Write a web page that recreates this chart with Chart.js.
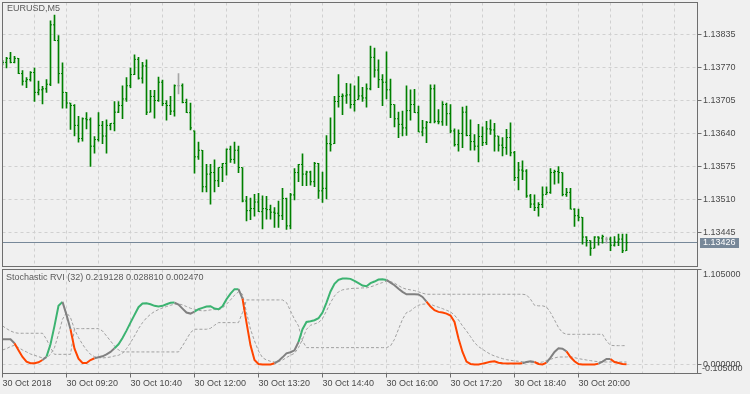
<!DOCTYPE html>
<html><head><meta charset="utf-8">
<script src="https://cdn.jsdelivr.net/npm/chart.js@4/dist/chart.umd.min.js"></script>
<style>
html,body{margin:0;padding:0;background:#f0f0f0;}
#wrap{position:relative;width:750px;height:394px;overflow:hidden;background:#f0f0f0;}
#c1{position:absolute;left:0;top:0;}
#c2{position:absolute;left:0;top:268px;}
</style></head><body>
<div id="wrap"><canvas id="c1" width="750" height="268"></canvas><canvas id="c2" width="750" height="126"></canvas></div>
<script>
const symbolTitle = 'EURUSD,M5';
const indicatorTitle = 'Stochastic RVI (32) 0.219128 0.028810 0.002470';
const timeLabels = ['30 Oct 2018','30 Oct 09:20','30 Oct 10:40','30 Oct 12:00','30 Oct 13:20','30 Oct 14:40','30 Oct 16:00','30 Oct 17:20','30 Oct 18:40','30 Oct 20:00'];
const timeLabelBars = [0,16,32,48,64,80,96,112,128,144];
const gridBars = [0,8,16,24,32,40,48,56,64,72,80,88,96,104,112,120,128,136,144,152,160,168];
const priceTicks = [1.13445,1.13510,1.13575,1.13640,1.13705,1.13770,1.13835];
const indTicks = [-0.105,0,1.105];
const indLabels = ['-0.105000','0.000000','1.105000'];

const openP = [
1.13780,1.13781,1.13789,1.13781,1.13789,1.13759,1.13744,1.13747,1.13761,1.13722,
1.13727,1.13729,1.13738,1.13855,1.13824,1.13759,1.13722,1.13701,1.13696,1.13657,
1.13631,1.13670,1.13668,1.13616,1.13629,1.13657,1.13636,1.13657,1.13661,1.13683,
1.13696,1.13709,1.13735,1.13757,1.13787,1.13750,1.13774,1.13683,1.13714,1.13706,
1.13742,1.13700,1.13696,1.13685,1.13735,1.13735,1.13702,1.13682,1.13646,1.13595,
1.13608,1.13536,1.13561,1.13564,1.13548,1.13574,1.13582,1.13610,1.13590,1.13608,
1.13574,1.13508,1.13489,1.13493,1.13506,1.13487,1.13493,1.13491,1.13486,1.13484,
1.13479,1.13513,1.13459,1.13520,1.13564,1.13580,1.13561,1.13565,1.13546,1.13582,
1.13528,1.13533,1.13621,1.13621,1.13704,1.13714,1.13715,1.13717,1.13698,1.13708,
1.13715,1.13711,1.13729,1.13791,1.13766,1.13747,1.13742,1.13727,1.13698,1.13670,
1.13659,1.13652,1.13686,1.13698,1.13682,1.13644,1.13652,1.13663,1.13729,1.13665,
1.13664,1.13698,1.13680,1.13646,1.13619,1.13641,1.13683,1.13637,1.13625,1.13616,
1.13635,1.13623,1.13650,1.13648,1.13636,1.13618,1.13613,1.13633,1.13603,1.13554,
1.13569,1.13567,1.13518,1.13502,1.13495,1.13501,1.13521,1.13525,1.13564,1.13566,
1.13564,1.13521,1.13525,1.13492,1.13479,1.13476,1.13437,1.13430,1.13415,1.13437,
1.13435,1.13433,1.13433,1.13421,1.13427,1.13433,1.13410];
const highP = [
1.13785,1.13791,1.13801,1.13793,1.13789,1.13765,1.13751,1.13763,1.13770,1.13744,
1.13734,1.13747,1.13863,1.13874,1.13834,1.13780,1.13722,1.13701,1.13698,1.13675,
1.13672,1.13682,1.13672,1.13635,1.13682,1.13665,1.13668,1.13661,1.13704,1.13704,
1.13735,1.13751,1.13770,1.13796,1.13791,1.13781,1.13786,1.13726,1.13726,1.13752,
1.13746,1.13706,1.13714,1.13737,1.13759,1.13739,1.13709,1.13701,1.13646,1.13624,
1.13608,1.13580,1.13580,1.13589,1.13574,1.13582,1.13611,1.13616,1.13624,1.13616,
1.13574,1.13517,1.13514,1.13521,1.13523,1.13518,1.13517,1.13500,1.13495,1.13508,
1.13533,1.13514,1.13523,1.13572,1.13580,1.13601,1.13567,1.13567,1.13584,1.13582,
1.13565,1.13637,1.13672,1.13714,1.13757,1.13719,1.13740,1.13739,1.13735,1.13753,
1.13732,1.13739,1.13813,1.13809,1.13786,1.13757,1.13802,1.13748,1.13698,1.13683,
1.13685,1.13735,1.13727,1.13728,1.13695,1.13667,1.13665,1.13737,1.13737,1.13688,
1.13704,1.13701,1.13698,1.13650,1.13648,1.13693,1.13695,1.13668,1.13639,1.13659,
1.13654,1.13665,1.13668,1.13661,1.13636,1.13633,1.13649,1.13662,1.13606,1.13584,
1.13587,1.13570,1.13521,1.13520,1.13505,1.13536,1.13536,1.13572,1.13569,1.13576,
1.13564,1.13533,1.13533,1.13493,1.13492,1.13476,1.13438,1.13430,1.13438,1.13438,
1.13441,1.13437,1.13437,1.13438,1.13443,1.13443,1.13443];
const lowP = [
1.13776,1.13770,1.13780,1.13780,1.13759,1.13736,1.13731,1.13744,1.13704,1.13717,
1.13699,1.13722,1.13735,1.13824,1.13740,1.13691,1.13691,1.13649,1.13636,1.13624,
1.13626,1.13650,1.13576,1.13602,1.13626,1.13621,1.13602,1.13648,1.13646,1.13682,
1.13670,1.13704,1.13731,1.13757,1.13748,1.13740,1.13678,1.13683,1.13671,1.13704,
1.13696,1.13667,1.13678,1.13675,1.13719,1.13701,1.13682,1.13648,1.13563,1.13590,
1.13526,1.13526,1.13502,1.13526,1.13536,1.13546,1.13559,1.13584,1.13582,1.13564,
1.13506,1.13469,1.13471,1.13478,1.13487,1.13453,1.13472,1.13472,1.13456,1.13456,
1.13471,1.13452,1.13453,1.13510,1.13546,1.13538,1.13538,1.13539,1.13536,1.13513,
1.13505,1.13512,1.13606,1.13621,1.13693,1.13678,1.13700,1.13691,1.13685,1.13708,
1.13704,1.13693,1.13727,1.13752,1.13731,1.13696,1.13709,1.13672,1.13654,1.13633,
1.13636,1.13637,1.13667,1.13682,1.13644,1.13636,1.13623,1.13662,1.13662,1.13660,
1.13657,1.13657,1.13642,1.13616,1.13606,1.13613,1.13636,1.13608,1.13608,1.13585,
1.13617,1.13619,1.13639,1.13606,1.13606,1.13597,1.13600,1.13597,1.13548,1.13530,
1.13550,1.13515,1.13495,1.13489,1.13478,1.13495,1.13521,1.13523,1.13541,1.13543,
1.13518,1.13517,1.13492,1.13458,1.13469,1.13423,1.13419,1.13401,1.13415,1.13421,
1.13425,1.13425,1.13410,1.13419,1.13420,1.13406,1.13410];
const closeP = [
1.13781,1.13789,1.13781,1.13789,1.13759,1.13744,1.13747,1.13761,1.13722,1.13727,
1.13729,1.13738,1.13855,1.13824,1.13759,1.13722,1.13701,1.13696,1.13657,1.13631,
1.13670,1.13668,1.13616,1.13629,1.13657,1.13636,1.13657,1.13661,1.13683,1.13696,
1.13709,1.13735,1.13757,1.13787,1.13750,1.13774,1.13683,1.13714,1.13706,1.13742,
1.13700,1.13696,1.13685,1.13735,1.13735,1.13702,1.13682,1.13652,1.13595,1.13608,
1.13536,1.13561,1.13564,1.13548,1.13574,1.13582,1.13610,1.13590,1.13608,1.13574,
1.13508,1.13489,1.13493,1.13506,1.13487,1.13493,1.13491,1.13486,1.13484,1.13479,
1.13513,1.13459,1.13520,1.13564,1.13580,1.13561,1.13565,1.13546,1.13582,1.13528,
1.13533,1.13621,1.13619,1.13704,1.13714,1.13715,1.13717,1.13698,1.13706,1.13715,
1.13711,1.13729,1.13791,1.13766,1.13747,1.13742,1.13727,1.13698,1.13670,1.13659,
1.13652,1.13686,1.13698,1.13682,1.13644,1.13652,1.13663,1.13729,1.13665,1.13664,
1.13698,1.13680,1.13646,1.13619,1.13641,1.13683,1.13637,1.13625,1.13616,1.13635,
1.13623,1.13650,1.13648,1.13636,1.13618,1.13613,1.13633,1.13603,1.13554,1.13569,
1.13567,1.13518,1.13502,1.13495,1.13501,1.13520,1.13525,1.13564,1.13566,1.13564,
1.13521,1.13525,1.13492,1.13479,1.13476,1.13437,1.13430,1.13415,1.13437,1.13435,
1.13438,1.13433,1.13421,1.13427,1.13433,1.13410,1.13426];

const rviMain = [
0.293,0.293,0.293,0.247,0.165,0.087,0.033,0.014,0.014,0.025,
0.052,0.091,0.235,0.449,0.682,0.728,0.577,0.410,0.184,0.068,
0.017,0.017,0.052,0.072,0.083,0.095,0.118,0.146,0.188,0.235,
0.309,0.394,0.487,0.577,0.666,0.709,0.713,0.701,0.682,0.674,
0.682,0.701,0.717,0.720,0.697,0.650,0.604,0.592,0.616,0.643,
0.658,0.674,0.678,0.650,0.643,0.678,0.759,0.825,0.876,0.876,
0.767,0.487,0.223,0.052,0.006,0.000,0.000,0.000,0.014,0.041,
0.083,0.130,0.142,0.165,0.262,0.410,0.495,0.503,0.515,0.538,
0.604,0.720,0.849,0.938,0.984,1.000,1.000,0.996,0.973,0.946,
0.918,0.911,0.946,0.965,0.988,0.992,0.984,0.953,0.922,0.880,
0.845,0.817,0.817,0.817,0.814,0.786,0.732,0.674,0.631,0.612,
0.604,0.592,0.569,0.495,0.301,0.146,0.033,0.006,0.000,0.000,
0.010,0.021,0.033,0.037,0.021,0.014,0.010,0.010,0.010,0.010,
0.014,0.029,0.037,0.029,0.006,0.000,0.021,0.080,0.146,0.188,
0.184,0.153,0.087,0.037,0.006,0.000,0.000,0.000,0.000,0.010,
0.033,0.064,0.064,0.029,0.017,0.006,0.00247];
const levelUp = [
0.169,0.184,0.208,0.223,0.196,0.169,0.146,0.122,0.107,0.091,
0.076,0.076,0.118,0.196,0.351,0.526,0.604,0.546,0.410,0.313,
0.235,0.169,0.118,0.091,0.080,0.076,0.080,0.087,0.099,0.107,
0.130,0.184,0.254,0.332,0.417,0.487,0.542,0.584,0.616,0.639,
0.658,0.674,0.689,0.701,0.705,0.693,0.674,0.654,0.643,0.631,
0.623,0.627,0.635,0.639,0.635,0.658,0.701,0.751,0.806,0.845,
0.817,0.604,0.410,0.274,0.157,0.080,0.052,0.037,0.029,0.033,
0.052,0.080,0.107,0.130,0.196,0.293,0.410,0.456,0.472,0.487,
0.534,0.623,0.720,0.798,0.845,0.868,0.876,0.883,0.887,0.887,
0.891,0.891,0.903,0.918,0.938,0.953,0.969,0.965,0.946,0.918,
0.891,0.876,0.868,0.860,0.845,0.829,0.817,0.817,0.817,0.817,
0.817,0.817,0.817,0.817,0.817,0.817,0.817,0.817,0.817,0.817,
0.817,0.817,0.817,0.817,0.817,0.817,0.817,0.817,0.817,0.817,
0.817,0.810,0.759,0.689,0.682,0.682,0.670,0.604,0.518,0.429,
0.371,0.351,0.351,0.351,0.351,0.351,0.351,0.351,0.351,0.351,
0.351,0.274,0.223,0.219128,0.219128,0.219128,0.219128];
const levelDn = [
0.449,0.417,0.390,0.371,0.363,0.363,0.363,0.363,0.363,0.363,
0.363,0.293,0.196,0.118,0.118,0.118,0.118,0.118,0.417,0.417,
0.417,0.417,0.417,0.417,0.417,0.390,0.332,0.274,0.216,0.169,
0.146,0.146,0.146,0.146,0.146,0.146,0.146,0.146,0.146,0.146,
0.146,0.146,0.146,0.146,0.146,0.216,0.293,0.371,0.410,0.410,
0.410,0.410,0.421,0.456,0.487,0.487,0.487,0.487,0.487,0.487,
0.604,0.751,0.751,0.751,0.751,0.751,0.751,0.751,0.751,0.751,
0.751,0.720,0.623,0.526,0.449,0.274,0.196,0.196,0.196,0.196,
0.196,0.196,0.196,0.196,0.196,0.196,0.196,0.196,0.196,0.196,
0.196,0.196,0.196,0.196,0.196,0.196,0.196,0.216,0.293,0.410,
0.526,0.604,0.623,0.662,0.689,0.701,0.705,0.701,0.682,0.666,
0.650,0.631,0.612,0.573,0.518,0.449,0.390,0.324,0.254,0.208,
0.177,0.146,0.118,0.099,0.083,0.068,0.056,0.049,0.041,0.037,
0.033,0.025,0.021,0.021,0.021,0.029,0.045,0.060,0.076,0.087,
0.087,0.087,0.091,0.080,0.068,0.060,0.052,0.045,0.037,0.033,
0.029,0.029,0.029,0.033,0.029,0.029,0.02881];

const C = {
  frame:'#6e6e6e', grid:'#d0d0d0', text:'#4a4a4a', title:'#5a5a5a',
  bar:'#008000', doji:'#a6a6a6', priceLine:'#778899',
  up:'#3cb371', dn:'#ff4500', flat:'#808080', level:'#a0a0a0'
};
Chart.defaults.font.family = '"Liberation Sans", Arial, sans-serif';
Chart.defaults.font.size = 9;
Chart.defaults.color = C.text;

const idx = closeP.map((_, i) => i);
const xMax = 173.75;
const barColors = idx.map(i => closeP[i] === openP[i] ? C.doji : C.bar);

function stateColor(i) {
  const v = rviMain[i];
  const hi = Math.max(levelUp[i], levelDn[i]);
  const lo = Math.min(levelUp[i], levelDn[i]);
  return v > hi ? C.up : (v < lo ? C.dn : C.flat);
}
function noPad(s) { s.paddingTop = 0; s.paddingBottom = 0; s.paddingLeft = 0; s.paddingRight = 0; }

const mainDecor = {
  id: 'mainDecor',
  beforeDatasetsDraw(chart) {
    const {ctx, chartArea: a, scales: {y}} = chart;
    const py = Math.floor(y.getPixelForValue(closeP[closeP.length - 1])) + 0.5;
    ctx.save();
    ctx.strokeStyle = C.priceLine; ctx.lineWidth = 1;
    ctx.beginPath(); ctx.moveTo(a.left, py); ctx.lineTo(a.right, py); ctx.stroke();
    ctx.restore();
  },
  afterDraw(chart) {
    const {ctx, chartArea: a, scales: {y}} = chart;
    ctx.save();
    ctx.strokeStyle = C.frame; ctx.lineWidth = 1;
    ctx.strokeRect(a.left, a.top, a.right - a.left, a.bottom - a.top);
    ctx.font = '9px "Liberation Sans", Arial, sans-serif';
    ctx.textBaseline = 'middle'; ctx.textAlign = 'left';
    ctx.fillStyle = C.title;
    ctx.fillText(symbolTitle, 7, 9);
    const last = closeP[closeP.length - 1];
    const py = Math.floor(y.getPixelForValue(last));
    ctx.fillStyle = C.priceLine;
    ctx.fillRect(a.right + 2.5, py - 4, 39, 10);
    ctx.fillStyle = '#ffffff';
    ctx.fillText(last.toFixed(5), a.right + 5.5, py + 1);
    ctx.restore();
  }
};

const indDecor = {
  id: 'indDecor',
  afterDraw(chart) {
    const {ctx, chartArea: a, scales: {y}} = chart;
    ctx.save();
    ctx.strokeStyle = C.frame; ctx.lineWidth = 1;
    ctx.strokeRect(a.left, a.top, a.right - a.left, a.bottom - a.top);
    ctx.font = '9px "Liberation Sans", Arial, sans-serif';
    ctx.textBaseline = 'middle'; ctx.textAlign = 'left';
    ctx.fillStyle = C.title;
    ctx.fillText(indicatorTitle, 6, 10);
    ctx.fillStyle = C.text;
    indTicks.forEach((v, k) => {
      let py = y.getPixelForValue(v);
      py = Math.min(Math.max(py, a.top + 5), a.bottom - 5);
      ctx.fillText(indLabels[k], a.right + 5.5 - (indLabels[k][0] === '-' ? 1 : 0), py);
    });
    ctx.restore();
  }
};

new Chart(document.getElementById('c1'), {
  type: 'scatter',
  data: {
    datasets: [
      { type: 'bar', data: idx.map(i => ({x: i, y: [lowP[i], highP[i]]})),
        backgroundColor: barColors, borderWidth: 0, barThickness: 1, order: 3 },
      { type: 'scatter', data: idx.map(i => ({x: i - 0.25, y: openP[i]})),
        pointStyle: 'line', pointRadius: 0.5, pointHoverRadius: 0.5, pointBorderWidth: 1,
        pointBorderColor: barColors, pointBackgroundColor: barColors, order: 2 },
      { type: 'scatter', data: idx.map(i => ({x: i + 0.25, y: closeP[i]})),
        pointStyle: 'line', pointRadius: 0.5, pointHoverRadius: 0.5, pointBorderWidth: 1,
        pointBorderColor: barColors, pointBackgroundColor: barColors, order: 1 }
    ]
  },
  options: {
    responsive: false, animation: false, events: [],
    layout: {padding: {left: 2.5, top: 2.5, right: 0, bottom: 0.5}},
    plugins: {legend: {display: false}, tooltip: {enabled: false}},
    scales: {
      x: {
        type: 'linear', min: 0, max: xMax, offset: false,
        afterBuildTicks: s => { s.ticks = gridBars.map(v => ({value: v})); },
        afterFit: s => { s.height = 0; noPad(s); },
        grid: {offset: false, color: C.grid, drawTicks: false},
        border: {display: false, dash: [3, 3]},
        ticks: {display: false}
      },
      y: {
        position: 'right', min: 1.13379, max: 1.13899,
        afterBuildTicks: s => { s.ticks = priceTicks.map(v => ({value: v})); },
        afterFit: s => { s.width = 52.5; noPad(s); },
        grid: {color: C.grid, tickLength: 4, tickColor: C.frame, tickBorderDash: []},
        border: {display: false, dash: [3, 3]},
        ticks: {padding: 1.5, color: C.text, callback: v => Number(v).toFixed(5)}
      }
    }
  },
  plugins: [mainDecor]
});

new Chart(document.getElementById('c2'), {
  type: 'line',
  data: {
    datasets: [
      { data: idx.map(i => ({x: i, y: rviMain[i]})), borderColor: C.flat, borderWidth: 2,
        pointRadius: 0, tension: 0, segment: {borderColor: c => stateColor(c.p1DataIndex)} },
      { data: idx.map(i => ({x: i, y: levelUp[i]})), borderColor: C.level, borderWidth: 1,
        borderDash: [3, 2], pointRadius: 0, tension: 0 },
      { data: idx.map(i => ({x: i, y: levelDn[i]})), borderColor: C.level, borderWidth: 1,
        borderDash: [3, 2], pointRadius: 0, tension: 0 }
    ]
  },
  options: {
    responsive: false, animation: false, events: [],
    layout: {padding: {left: 2.5, top: 1.5, right: 0, bottom: 0}},
    plugins: {legend: {display: false}, tooltip: {enabled: false}},
    scales: {
      x: {
        type: 'linear', min: 0, max: xMax, offset: false,
        afterBuildTicks: s => { s.ticks = gridBars.map(v => ({value: v})); },
        afterFit: s => { s.height = 20.5; noPad(s); },
        grid: {offset: false, color: C.grid, tickLength: 4, tickBorderDash: [],
               tickColor: c => (c.tick && timeLabelBars.includes(c.tick.value)) ? C.frame : 'rgba(0,0,0,0)'},
        border: {display: false, dash: [3, 3]},
        ticks: {autoSkip: false, maxRotation: 0, minRotation: 0, align: 'start', padding: 1, color: C.text,
                callback: v => { const k = timeLabelBars.indexOf(v); return k >= 0 ? timeLabels[k] : ''; }}
      },
      y: {
        position: 'right', min: -0.105, max: 1.105,
        afterBuildTicks: s => { s.ticks = indTicks.map(v => ({value: v})); },
        afterFit: s => { s.width = 52.5; noPad(s); },
        grid: {color: c => (c.tick && c.tick.value === 0) ? C.grid : 'rgba(0,0,0,0)',
               tickLength: 4, tickColor: C.frame, tickBorderDash: []},
        border: {display: false, dash: [3, 3]},
        ticks: {display: false}
      }
    }
  },
  plugins: [indDecor]
});
</script>
</body></html>
